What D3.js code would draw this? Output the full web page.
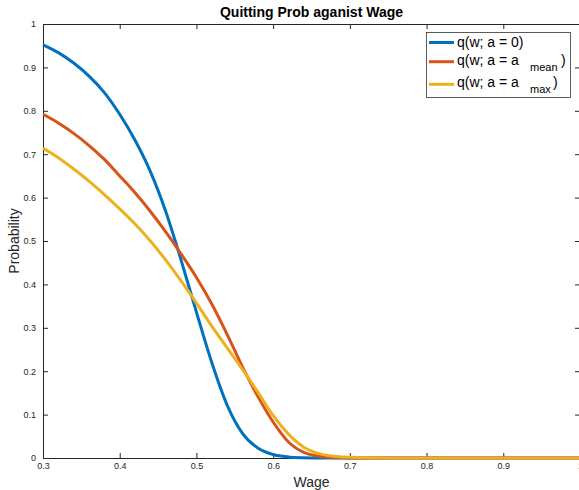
<!DOCTYPE html>
<html>
<head>
<meta charset="utf-8">
<script src="https://cdn.jsdelivr.net/npm/d3@7"></script>
<style>
  html, body { margin: 0; padding: 0; background: #fff; }
  svg { display: block; font-family: "Liberation Sans", Arial, Helvetica, sans-serif; }
</style>
</head>
<body>
<svg id="chart" width="579" height="490"></svg>
<script>
// ---- data ----
const wage = [0.30, 0.32, 0.34, 0.36, 0.38, 0.40, 0.42, 0.44, 0.46, 0.48, 0.50,
              0.52, 0.54, 0.56, 0.58, 0.60, 0.62, 0.64, 0.66, 0.68, 0.70,
              0.75, 0.80, 0.85, 0.90, 0.95, 1.00];
const qZero = [0.952, 0.934, 0.910, 0.880, 0.842, 0.792, 0.732, 0.660, 0.568, 0.456, 0.336,
               0.220, 0.122, 0.057, 0.023, 0.008, 0.0024, 0.0006, 0, 0, 0,
               0, 0, 0, 0, 0, 0];
const qMean = [0.792, 0.772, 0.748, 0.720, 0.688, 0.650, 0.611, 0.568, 0.521, 0.470, 0.416,
               0.355, 0.285, 0.210, 0.142, 0.083, 0.037, 0.013, 0.004, 0.001, 0,
               0, 0, 0, 0, 0, 0];
const qMax  = [0.714, 0.692, 0.666, 0.638, 0.607, 0.574, 0.539, 0.500, 0.456, 0.408, 0.357,
               0.304, 0.254, 0.204, 0.152, 0.098, 0.055, 0.025, 0.010, 0.004, 0.0015,
               0, 0, 0, 0, 0, 0];
const xTicks = [0.3, 0.4, 0.5, 0.6, 0.7, 0.8, 0.9, 1];
const yTicks = [0, 0.1, 0.2, 0.3, 0.4, 0.5, 0.6, 0.7, 0.8, 0.9, 1];
const seriesNames = ["q(w; a = 0)", "q(w; a = a", "q(w; a = a"];
const seriesSubs = ["", "mean", "max"];
const colors = ["#0072BD", "#D95319", "#EDB120"];
const titleText = "Quitting Prob aganist Wage";
const xLabel = "Wage";
const yLabel = "Probability";

// ---- layout ----
const mLeft = 43, mRight = 580, mTop = 24, mBottom = 458;
const axisColor = "#262626";

const svg = d3.select("#chart");
const x = d3.scaleLinear().domain([0.3, 1]).range([mLeft, mRight]);
const y = d3.scaleLinear().domain([0, 1]).range([mBottom, mTop]);

const fmt = d => String(+d.toFixed(1));

function styleAxis(g) {
  g.selectAll("path.domain").attr("stroke", axisColor).attr("stroke-width", 1);
  g.selectAll(".tick line").attr("stroke", axisColor).attr("stroke-width", 1);
  g.selectAll(".tick text").attr("fill", axisColor).attr("font-size", "9px")
    .attr("font-family", "'Liberation Sans', Arial, Helvetica, sans-serif");
}

svg.append("g").attr("transform", `translate(0,${mBottom})`)
  .call(d3.axisBottom(x).tickValues(xTicks).tickSizeInner(-5).tickSizeOuter(0).tickPadding(5).tickFormat(fmt))
  .call(styleAxis);
svg.append("g").attr("transform", `translate(0,${mTop})`)
  .call(d3.axisTop(x).tickValues(xTicks).tickSizeInner(-5).tickSizeOuter(0).tickFormat(""))
  .call(styleAxis);
svg.append("g").attr("transform", `translate(${mLeft},0)`)
  .call(d3.axisLeft(y).tickValues(yTicks).tickSizeInner(-5).tickSizeOuter(0).tickPadding(7).tickFormat(fmt))
  .call(styleAxis);
svg.append("g").attr("transform", `translate(${mRight},0)`)
  .call(d3.axisRight(y).tickValues(yTicks).tickSizeInner(-5).tickSizeOuter(0).tickFormat(""))
  .call(styleAxis);

// ---- lines ----
const line = d3.line().x((d, i) => x(wage[i])).y(d => y(d)).curve(d3.curveMonotoneX);
[qZero, qMean, qMax].forEach((s, k) => {
  svg.append("path").datum(s).attr("d", line)
    .attr("fill", "none").attr("stroke", colors[k]).attr("stroke-width", 3)
    .attr("stroke-linejoin", "round");
});

// ---- title & labels ----
svg.append("text").attr("x", (mLeft + mRight) / 2).attr("y", 17).attr("text-anchor", "middle")
  .attr("font-size", "14px").attr("font-weight", "bold").attr("fill", "#000").text(titleText);
svg.append("text").attr("x", (mLeft + mRight) / 2).attr("y", 487).attr("text-anchor", "middle")
  .attr("font-size", "14px").attr("fill", axisColor).text(xLabel);
svg.append("text").attr("transform", `translate(19,${(mTop + mBottom) / 2}) rotate(-90)`)
  .attr("text-anchor", "middle").attr("font-size", "14px").attr("fill", axisColor).text(yLabel);

// ---- legend ----
const lg = svg.append("g");
lg.append("rect").attr("x", 426.5).attr("y", 32.5).attr("width", 144).attr("height", 65)
  .attr("fill", "#fff").attr("stroke", axisColor).attr("stroke-width", 0.75);
const rowLineY = [42.5, 61.7, 84.3];
const rowBase = [46.5, 64.5, 87];
const subX = [0, 530, 530];
const closeX = [0, 561, 553];
seriesNames.forEach((name, k) => {
  lg.append("line").attr("x1", 429).attr("x2", 454).attr("y1", rowLineY[k]).attr("y2", rowLineY[k])
    .attr("stroke", colors[k]).attr("stroke-width", 3);
  const t = lg.append("text").attr("x", 457).attr("y", rowBase[k]).attr("font-size", "14px").attr("fill", "#000");
  t.append("tspan").text(name);
  if (seriesSubs[k]) {
    t.append("tspan").attr("x", subX[k]).attr("y", rowBase[k] + 6).attr("font-size", "11px").text(seriesSubs[k]);
    t.append("tspan").attr("x", closeX[k]).attr("y", rowBase[k]).text(")");
  }
});
</script>
</body>
</html>
